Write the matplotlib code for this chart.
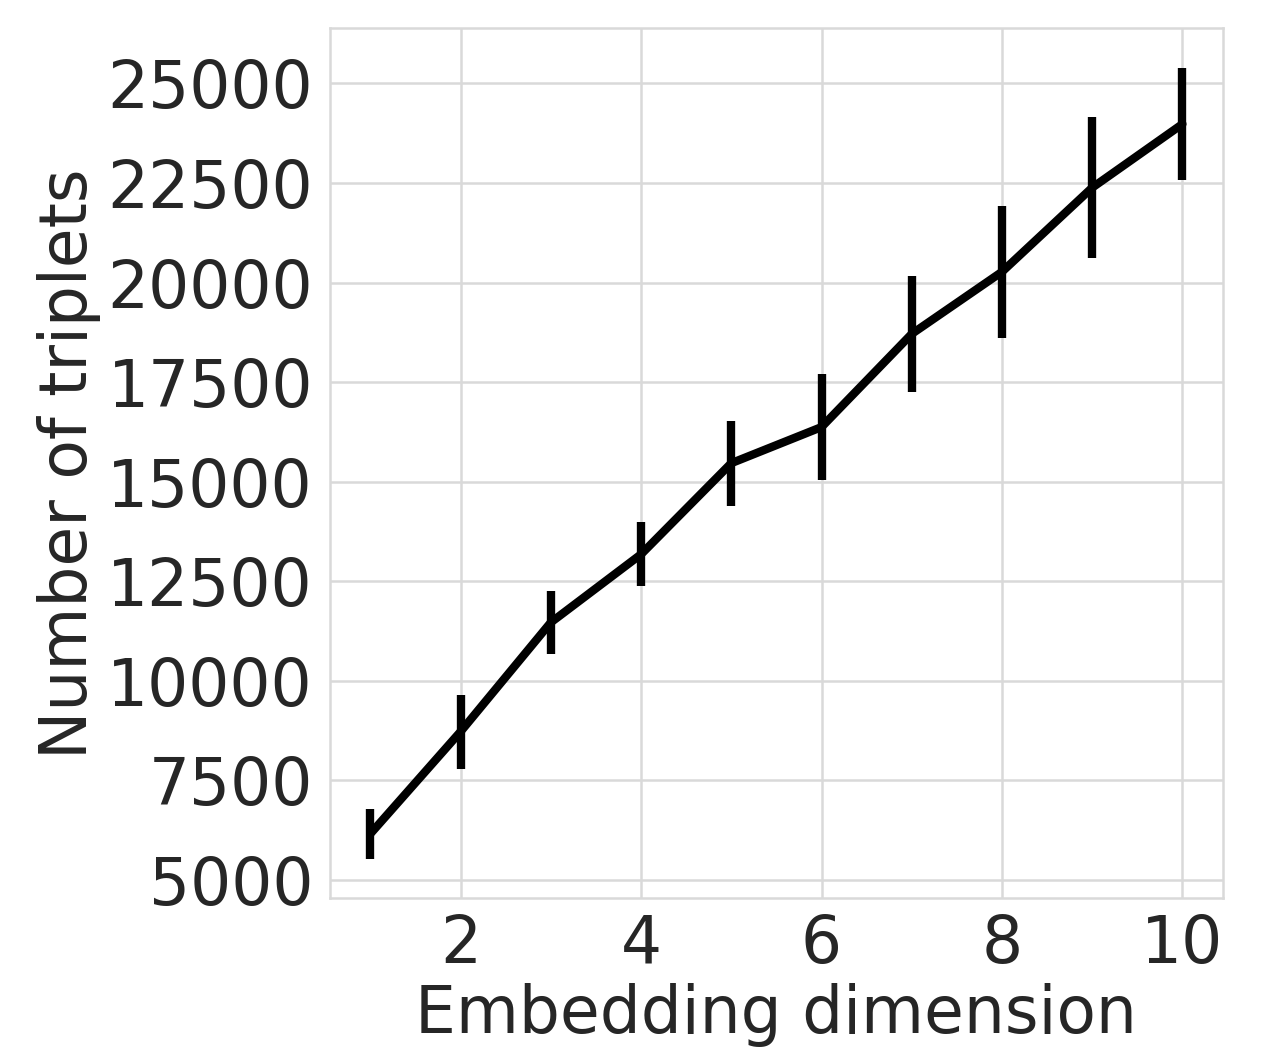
import numpy as np
import matplotlib
matplotlib.use("Agg")
import matplotlib.pyplot as plt
import seaborn as sns

# ------------------------------------------------------------
# Data
# ------------------------------------------------------------
dims = [1, 2, 3, 4, 5, 6, 7, 8, 9, 10]
triplets_mean = [6157, 8723, 11465, 13176, 15465, 16371, 18711, 20270, 22384, 23981]
triplets_err = [629, 931, 792, 805, 1069, 1333, 1447, 1660, 1774, 1409]

# ------------------------------------------------------------
# Plot
# ------------------------------------------------------------
sns.set_theme(style="whitegrid")
plt.rcParams["font.family"] = ["DejaVu Sans"]
FS = 15.5

fig, ax = plt.subplots(figsize=(1278 / 300, 1052 / 300), dpi=300)
fig.subplots_adjust(left=0.258, right=0.957, top=0.973, bottom=0.146)

ax.errorbar(dims, triplets_mean, yerr=triplets_err, color="black",
            linewidth=2, elinewidth=2, capsize=0)

ax.set_xticks([2, 4, 6, 8, 10])
ax.set_yticks(np.arange(5000, 25001, 2500))
ax.tick_params(labelsize=FS, colors="#262626", length=0)
ax.tick_params(axis="x", pad=3.5)
ax.tick_params(axis="y", pad=4)
ax.set_xlabel("Embedding dimension", fontsize=FS, color="#262626", labelpad=1.5)
ax.set_ylabel("Number of triplets", fontsize=FS, color="#262626", labelpad=1.5)
ax.grid(color="#d9d9d9", linewidth=0.6)
for s in ax.spines.values():
    s.set_color("#d9d9d9")
    s.set_linewidth(0.6)

fig.savefig("out.png", dpi=300)
